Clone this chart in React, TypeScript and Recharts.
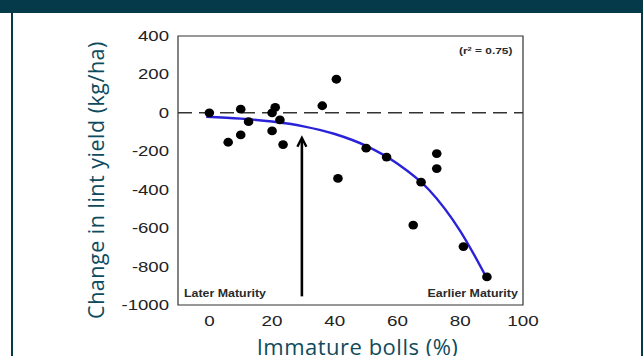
import React from 'react';
import { ComposedChart, XAxis, YAxis, Scatter, Line, ReferenceLine, ReferenceArea } from 'recharts';

const immatureBolls = [0, 6, 10, 10, 12.5, 20, 21, 22.5, 20, 23.5, 36, 40.5, 50, 56.5, 72.5, 72.5, 41, 67.5, 65, 81, 88.5];
const yieldChange = [0, -153, 19, -115, -46, 0, 29, -37, -94, -165, 37, 175, -184, -230, -212, -290, -341, -361, -584, -696, -854];
const fitBolls = [-1, 10, 20, 30, 40, 50, 60, 70, 80, 88.5];
const fitYield = [-20, -30, -45, -70, -110, -172, -265, -400, -615, -862];
const xTicks = [0, 20, 40, 60, 80, 100];
const yTicks = [400, 200, 0, -200, -400, -600, -800, -1000];

const points = immatureBolls.map((x, i) => ({ x, y: yieldChange[i] }));
const fit = fitBolls.map((x, i) => ({ x, fit: fitYield[i] }));

const TEAL = '#053a4b';
const TITLE = '#0f4b5c';

const XTick = (p: any) => (
  <g transform={`translate(${p.x},${p.y})`}>
    <text transform="scale(1.3,1)" textAnchor="middle" y={21.5} fontSize={14.5} fill="#222" fontFamily="'Liberation Sans', Arial, sans-serif">
      {p.payload.value}
    </text>
  </g>
);

const YTick = (p: any) => (
  <g transform={`translate(${p.x - 9},${p.y})`}>
    <text transform="scale(1.28,1)" textAnchor="end" y={5} fontSize={14.5} fill="#222" fontFamily="'Liberation Sans', Arial, sans-serif">
      {p.payload.value}
    </text>
  </g>
);

const Arrow = (p: any) => {
  const x = p.x1;
  const tip = Math.min(p.y1, p.y2);
  const base = Math.max(p.y1, p.y2);
  return (
    <g>
      <line x1={x} y1={base} x2={x} y2={tip + 2} stroke="#000" strokeWidth={2.6} />
      <path d={`M${x - 4.5},${tip + 9} L${x},${tip} L${x + 4.5},${tip + 9}`} fill="none" stroke="#000" strokeWidth={2.4} />
    </g>
  );
};

const Dot = (p: any) => <ellipse cx={p.cx} cy={p.cy} rx={4.8} ry={4.4} fill="#000" />;

const annot: React.CSSProperties = {
  position: 'absolute',
  fontFamily: "'Liberation Sans', Arial, sans-serif",
  fontWeight: 700,
  color: '#2a2a2a',
  whiteSpace: 'nowrap',
  lineHeight: 1,
};

export default function App() {
  return (
    <div style={{ position: 'absolute', left: 0, top: 0, width: 643, height: 356, background: '#fff', overflow: 'hidden' }}>
      <div style={{ position: 'absolute', left: 0, top: 0, width: 643, height: 13, background: TEAL }} />
      <div style={{ position: 'absolute', left: 11, top: 13, width: 2, height: 343, background: TEAL }} />
      <div style={{ position: 'absolute', left: 641, top: 13, width: 2, height: 343, background: TEAL }} />
      <div style={{ position: 'absolute', left: 0, top: 0 }}>
        <ComposedChart width={643} height={356} margin={{ top: 36, right: 120, bottom: 0, left: 0 }}>
          <XAxis dataKey="x" type="number" domain={[-10, 100]} ticks={xTicks} tick={<XTick />} tickLine={false} axisLine={false} tickSize={0} tickMargin={0} height={51} allowDataOverflow />
          <YAxis type="number" domain={[-1000, 400]} ticks={yTicks} tick={<YTick />} tickLine={false} axisLine={false} tickSize={0} tickMargin={0} width={178} allowDataOverflow />
          <ReferenceArea x1={-10} x2={100} y1={-1000} y2={400} fill="none" stroke="#333" strokeWidth={1.2} ifOverflow="visible" />
          <ReferenceLine y={0} stroke="#333" strokeWidth={1.5} strokeDasharray="14 7" />
          <ReferenceLine segment={[{ x: 29.5, y: -955 }, { x: 29.5, y: -130 }]} shape={Arrow} ifOverflow="visible" />
          <Line data={fit} dataKey="fit" type="monotone" stroke="#2a22d8" strokeWidth={2.4} dot={false} isAnimationActive={false} />
          <Scatter data={points} dataKey="y" shape={Dot} isAnimationActive={false} />
        </ComposedChart>
      </div>
      <div style={{ ...annot, left: 459, top: 46, fontSize: 9.5, transform: 'scaleX(1.25)', transformOrigin: 'left center' }}>
        (r<sup style={{ fontSize: 6, verticalAlign: 'top', lineHeight: 1 }}>2</sup> = 0.75)
      </div>
      <div style={{ ...annot, left: 184, top: 289, fontSize: 10, transform: 'scaleX(1.24)', transformOrigin: 'left center' }}>Later Maturity</div>
      <div style={{ ...annot, right: 643 - 518, top: 289, fontSize: 10, transform: 'scaleX(1.24)', transformOrigin: 'right center' }}>Earlier Maturity</div>
      <div style={{ position: 'absolute', left: 95.5, top: 180, transform: 'translate(-50%,-50%) rotate(-90deg)', whiteSpace: 'nowrap', fontFamily: "'Open Sans', sans-serif", fontSize: 21.5, letterSpacing: 0.5, color: TITLE, lineHeight: 1 }}>
        Change in lint yield (kg/ha)
      </div>
      <div style={{ position: 'absolute', left: 357.5, top: 335, transform: 'translateX(-50%)', whiteSpace: 'nowrap', fontFamily: "'Open Sans', sans-serif", fontSize: 22, letterSpacing: 0.5, color: TITLE, lineHeight: 1 }}>
        Immature bolls (%)
      </div>
    </div>
  );
}
